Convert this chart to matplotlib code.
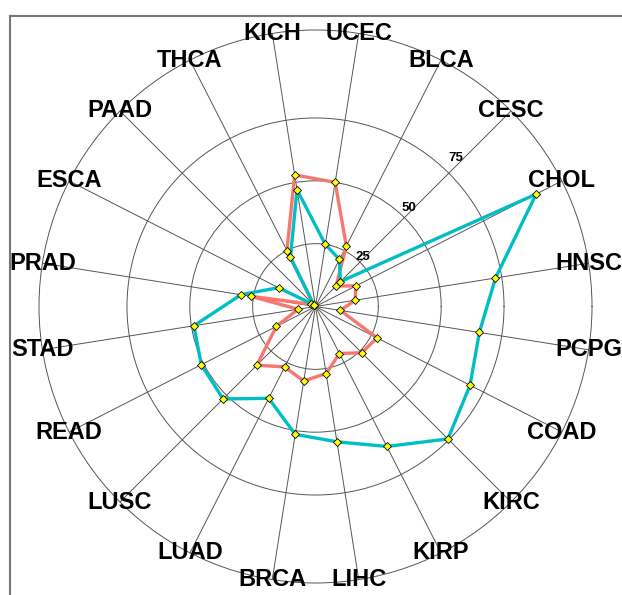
import numpy as np
import matplotlib
matplotlib.use("Agg")
import matplotlib.pyplot as plt
from matplotlib.lines import Line2D

# categorias en orden horario, empezando por UCEC
cats = ['UCEC', 'BLCA', 'CESC', 'CHOL', 'HNSC', 'PCPG', 'COAD', 'KIRC', 'KIRP', 'LIHC',
        'BRCA', 'LUAD', 'LUSC', 'READ', 'STAD', 'PRAD', 'ESCA', 'PAAD', 'THCA', 'KICH']
red_vals = [50, 27, 11.6, 18, 16, 10, 27.5, 26, 21, 27,
            30, 27, 33, 17.5, 7, 26, 2, 1, 25, 53]
cyan_vals = [25, 21, 14, 98.5, 72.5, 66, 69, 74.5, 62.5, 54.5,
             51.5, 41, 52, 51, 49, 30, 16.5, 1, 22, 47]
r_ticks = [25, 50, 75]
r_max = 110

plt.rcParams['font.family'] = ['Liberation Sans', 'DejaVu Sans']

W, H = 622, 595
fig = plt.figure(figsize=(W / 100, H / 100), dpi=100)

cx, cy, R = 315.5, 306.5, 276.5
ax = fig.add_axes([(cx - R) / W, (H - cy - R) / H, 2 * R / W, 2 * R / H], projection='polar')

n = len(cats)
theta = np.deg2rad((81 - 18 * np.arange(n)) % 360)
th_closed = np.append(theta, theta[0])

grid_col = '#555555'
ax.set_xticks(theta)
ax.set_xticklabels([])
ax.set_xlim(0, 2 * np.pi)
ax.set_ylim(0, r_max)
ax.set_yticks(r_ticks)
ax.set_yticklabels([])
ax.grid(True, color=grid_col, lw=0.7)
ax.spines['polar'].set_color(grid_col)
ax.spines['polar'].set_linewidth(0.7)
ax.set_facecolor('white')

ax.plot(th_closed, np.append(red_vals, red_vals[0]), '-', color='#F8766D', lw=2.4,
        zorder=3, solid_joinstyle='round')
ax.plot(th_closed, np.append(cyan_vals, cyan_vals[0]), '-', color='#00BFC4', lw=2.4,
        zorder=4, solid_joinstyle='round')
ax.plot(theta, red_vals, 'D', ms=3.6, mfc='#FFFF00', mec='black', mew=0.6, zorder=5)
ax.plot(theta, cyan_vals, 'D', ms=3.6, mfc='#FFFF00', mec='black', mew=0.6, zorder=5)

for t, lab in zip(theta, cats):
    ax.text(t, r_max, lab, ha='center', va='center', fontsize=17, fontweight='bold',
            color='black', zorder=6, clip_on=False)

for v in r_ticks:
    ax.text(np.deg2rad(46.5), v * 1.085, str(v), ha='center', va='center',
            fontsize=9.5, fontweight='bold', color='black', zorder=6)

# marco gris recortado (arriba e izquierda)
fig.add_artist(Line2D([10 / W, 10 / W], [0, (H - 16) / H], color='#777777', lw=1.5))
fig.add_artist(Line2D([10 / W, 1], [(H - 16) / H, (H - 16) / H], color='#777777', lw=1.5))

fig.savefig('out.png', dpi=100, facecolor='white')
